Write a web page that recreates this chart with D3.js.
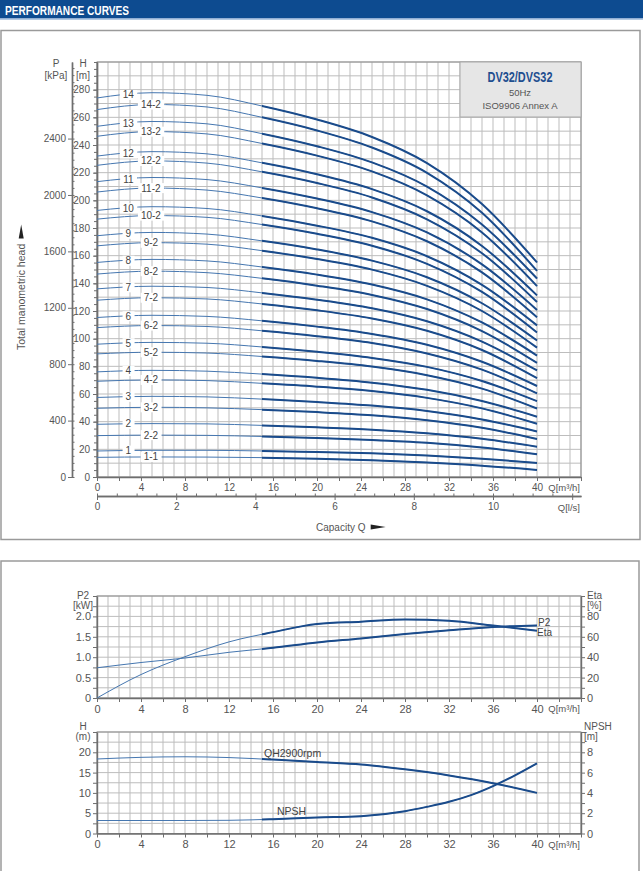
<!DOCTYPE html>
<html>
<head>
<meta charset="utf-8">
<script src="https://cdn.jsdelivr.net/npm/d3@7"></script>
<style>
body { margin: 0; background: #fff; }
svg text { font-family: "Liberation Sans", Arial, sans-serif; }
</style>
</head>
<body>
<div id="canvas"></div>
<script>
"use strict"

let svgWidth = 643
let svgHeight = 871

// ---- head curves (top chart), Q in m3/h, H in m
let qPoints = [0, 5, 10, 15, 20, 25, 30, 35, 40]
let stageLabels = ["14", "14-2", "13", "13-2", "12", "12-2", "11", "11-2", "10", "10-2",
    "9", "9-2", "8", "8-2", "7", "7-2", "6", "6-2", "5", "5-2", "4", "4-2",
    "3", "3-2", "2", "2-2", "1", "1-1"]
let headValues = [
    [274.0, 277.8, 275.9, 268.2, 258.4, 245.8, 226.9, 197.3, 155.1],
    [265.6, 269.3, 267.5, 260.0, 250.5, 238.2, 219.9, 191.0, 149.0],
    [253.5, 257.0, 255.3, 248.2, 239.1, 227.4, 209.9, 182.5, 143.5],
    [246.3, 249.7, 248.0, 241.1, 232.3, 220.9, 203.6, 176.8, 138.0],
    [232.0, 235.2, 233.6, 227.1, 218.8, 208.1, 192.1, 167.0, 131.3],
    [225.3, 228.5, 226.9, 220.6, 212.5, 202.1, 186.3, 161.8, 126.5],
    [213.5, 216.5, 215.0, 209.0, 201.3, 191.5, 176.8, 153.7, 120.8],
    [206.0, 208.9, 207.4, 201.7, 194.3, 184.8, 170.4, 147.9, 115.5],
    [192.7, 195.4, 194.1, 188.7, 181.7, 172.9, 159.6, 138.9, 109.6],
    [186.4, 189.0, 187.7, 182.5, 175.8, 167.2, 154.1, 133.8, 104.5],
    [174.4, 176.8, 175.6, 170.7, 164.5, 156.4, 144.4, 125.6, 98.7],
    [167.1, 169.4, 168.3, 163.6, 157.6, 149.9, 138.2, 120.0, 93.5],
    [155.1, 157.3, 156.2, 151.8, 146.3, 139.1, 128.4, 111.7, 87.8],
    [146.7, 148.8, 147.7, 143.6, 138.3, 131.6, 121.4, 105.5, 82.5],
    [136.0, 137.9, 137.0, 133.1, 128.2, 122.0, 112.6, 97.9, 77.0],
    [127.8, 129.6, 128.7, 125.1, 120.5, 114.6, 105.7, 91.8, 71.5],
    [115.3, 116.9, 116.1, 112.9, 108.7, 103.4, 95.6, 83.3, 65.8],
    [108.0, 109.5, 108.8, 105.7, 101.8, 96.9, 89.3, 77.6, 60.5],
    [96.0, 97.3, 96.7, 94.0, 90.5, 86.1, 79.6, 69.4, 54.8],
    [89.0, 90.2, 89.6, 87.1, 83.9, 79.8, 73.6, 63.9, 49.5],
    [76.0, 77.1, 76.5, 74.4, 71.7, 68.2, 63.0, 54.9, 43.6],
    [69.2, 70.2, 69.7, 67.7, 65.3, 62.1, 57.2, 49.6, 38.5],
    [57.5, 58.3, 57.9, 56.3, 54.2, 51.6, 47.7, 41.6, 32.9],
    [49.7, 50.4, 50.0, 48.7, 46.9, 44.6, 41.1, 35.6, 27.5],
    [38.1, 38.6, 38.4, 37.3, 35.9, 34.2, 31.6, 27.6, 21.9],
    [29.9, 30.3, 30.1, 29.3, 28.2, 26.8, 24.7, 21.3, 16.5],
    [18.8, 19.3, 19.3, 18.8, 18.0, 17.1, 15.5, 13.2, 10.2],
    [14.2, 14.5, 14.4, 14.0, 13.2, 12.1, 10.5, 8.2, 5.1]
]

// ---- power / efficiency (middle chart)
let qSmall = [0, 4, 8, 12, 16, 20, 24, 28, 32, 36, 40]
let p2Values = [0.74, 0.87, 0.98, 1.12, 1.23, 1.36, 1.46, 1.57, 1.66, 1.74, 1.78]
let etaValues = [0, 23, 40.5, 55, 64.6, 72.5, 74.8, 77, 75.7, 71, 66]

// ---- single stage head / NPSH (bottom chart)
let qhValues = [18.35, 18.76, 18.9, 18.7, 18.2, 17.6, 17.0, 15.8, 14.3, 12.4, 10.0]
let npshQ = [0, 4, 8, 12, 16, 20, 24, 28, 30, 32, 34, 36, 38, 40]
let npshValues = [1.28, 1.28, 1.28, 1.3, 1.41, 1.58, 1.71, 2.2, 2.63, 3.12, 3.78, 4.67, 5.73, 6.91]

// ---- tick labels
let qTicks = [0, 4, 8, 12, 16, 20, 24, 28, 32, 36, 40]
let lsTicks = [0, 2, 4, 6, 8, 10]
let hTicks = [0, 20, 40, 60, 80, 100, 120, 140, 160, 180, 200, 220, 240, 260, 280]
let pTicks = [0, 400, 800, 1200, 1600, 2000, 2400]
let p2Ticks = [0, 0.5, 1.0, 1.5, 2.0]
let etaTicks = [0, 20, 40, 60, 80]
let h2Ticks = [0, 5, 10, 15, 20]
let npshTicks = [0, 2, 4, 6, 8]

let thinBlue = "#4677b0"
let thickBlue = "#1a4b8b"
let gridColor = "#bdbdbd"
let axisColor = "#6e6e6e"
let labelColor = "#555"

let svg = d3.select("#canvas")
    .append("svg")
    .attr("width", svgWidth)
    .attr("height", svgHeight)

let defs = svg.append("defs")

// header bar
svg.append("rect")
    .attr("x", 0).attr("y", 0)
    .attr("width", svgWidth).attr("height", 18)
    .attr("fill", "#0d4b90")
svg.append("line")
    .attr("x1", 0).attr("x2", svgWidth)
    .attr("y1", 18.8).attr("y2", 18.8)
    .attr("stroke", "#6c95c6").attr("stroke-width", 1.2)
svg.append("text")
    .attr("x", 5).attr("y", 14.5)
    .attr("textLength", 124).attr("lengthAdjust", "spacingAndGlyphs")
    .style("font-family", "'Liberation Sans Narrow', 'Liberation Sans', sans-serif")
    .style("font-weight", "bold").style("font-size", "13.5px")
    .attr("fill", "#fff")
    .text("PERFORMANCE CURVES")

// panel frames
svg.append("rect")
    .attr("x", 1).attr("y", 30.5).attr("width", 639).attr("height", 509)
    .attr("fill", "none").attr("stroke", "#9a9a9a").attr("stroke-width", 1.5)
svg.append("rect")
    .attr("x", 1).attr("y", 561).attr("width", 638).attr("height", 330)
    .attr("fill", "none").attr("stroke", "#9a9a9a").attr("stroke-width", 1.5)

// shared x scale
let xScale = d3.scaleLinear().domain([0, 44]).range([97, 581])

function drawGrid(drawing, yScale, yMax, yStep) {
    let grid = drawing.append("g")
    grid.selectAll("line.gv")
        .data(d3.range(0, 44.01, 1))
        .join("line")
        .classed("gv", true)
        .attr("x1", d => xScale(d)).attr("x2", d => xScale(d))
        .attr("y1", yScale(0)).attr("y2", yScale(yMax))
        .attr("stroke", gridColor).attr("stroke-width", 1)
    grid.selectAll("line.gh")
        .data(d3.range(0, yMax + 0.001, yStep))
        .join("line")
        .classed("gh", true)
        .attr("x1", xScale(0)).attr("x2", xScale(44))
        .attr("y1", d => yScale(d)).attr("y2", d => yScale(d))
        .attr("stroke", gridColor).attr("stroke-width", 1)
    grid.append("rect")
        .attr("x", xScale(0)).attr("y", yScale(yMax))
        .attr("width", xScale(44) - xScale(0))
        .attr("height", yScale(0) - yScale(yMax))
        .attr("fill", "none").attr("stroke", "#8c8c8c").attr("stroke-width", 1)
}

function styleAxis(axisGroup, fontSize) {
    axisGroup.attr("font-family", "'Liberation Sans', Arial, sans-serif")
        .attr("font-size", fontSize)
    axisGroup.select(".domain").attr("stroke", axisColor).attr("stroke-width", 1.4)
    axisGroup.selectAll(".tick line").attr("stroke", axisColor)
    axisGroup.selectAll(".tick text").attr("fill", labelColor)
    return axisGroup
}

function addText(drawing, x, y, str, size, anchor) {
    return drawing.append("text")
        .attr("x", x).attr("y", y)
        .attr("text-anchor", anchor || "start")
        .style("font-size", size + "px")
        .attr("fill", labelColor)
        .text(str)
}

function drawQAxis(drawing, y, fontSize) {
    let ax = drawing.append("g").attr("transform", `translate(0,${y})`)
        .call(d3.axisBottom(xScale)
            .tickValues(d3.range(0, 44.01, 2))
            .tickFormat(d => qTicks.includes(d) ? d : "")
            .tickSize(4).tickPadding(3).tickSizeOuter(0))
    styleAxis(ax, fontSize)
    addText(drawing, 580, y + 14, "Q[m³/h]", 9.5, "end")
}

function drawCurve(drawing, points, yScale, clipId, thinW, thickW) {
    let line = d3.line()
        .x(d => xScale(d[0]))
        .y(d => yScale(d[1]))
        .curve(d3.curveMonotoneX)
    drawing.append("path")
        .attr("d", line(points))
        .attr("fill", "none").attr("stroke", thinBlue).attr("stroke-width", thinW)
    drawing.append("path")
        .attr("d", line(points))
        .attr("clip-path", `url(#${clipId})`)
        .attr("fill", "none").attr("stroke", thickBlue).attr("stroke-width", thickW)
}

function makeClip(id, yTop, yBottom) {
    defs.append("clipPath").attr("id", id)
        .append("rect")
        .attr("x", xScale(15)).attr("y", yTop - 5)
        .attr("width", xScale(41) - xScale(15))
        .attr("height", yBottom - yTop + 10)
}

// =================== TOP CHART ===================
let yH = d3.scaleLinear().domain([0, 300]).range([477, 62])
let yP = d3.scaleLinear().domain([0, 300 * 9.81]).range([477, 62])
let xLs = d3.scaleLinear().domain([0, 44 / 3.6]).range([97, 581])

let topPanel = svg.append("g")
drawGrid(topPanel, yH, 300, 10)

// H axis
styleAxis(topPanel.append("g").attr("transform", "translate(97,0)")
    .call(d3.axisLeft(yH).tickValues(d3.range(0, 301, 5)).tickFormat("").tickSize(3).tickSizeOuter(0)), 10)
styleAxis(topPanel.append("g").attr("transform", "translate(97,0)")
    .call(d3.axisLeft(yH).tickValues(hTicks).tickSize(4).tickPadding(3).tickSizeOuter(0)), 10)

// P axis
styleAxis(topPanel.append("g").attr("transform", "translate(72,0)")
    .call(d3.axisRight(yP).tickValues(d3.range(0, 2901, 50)).tickFormat("").tickSize(2.5).tickSizeOuter(0)), 10)
styleAxis(topPanel.append("g").attr("transform", "translate(72,0)")
    .call(d3.axisLeft(yP).tickValues(pTicks).tickFormat(d3.format("d")).tickSize(4).tickPadding(2).tickSizeOuter(0)), 10)

addText(topPanel, 56, 67, "P", 10, "middle")
addText(topPanel, 56, 79, "[kPa]", 10, "middle")
addText(topPanel, 83, 67, "H", 10, "middle")
addText(topPanel, 83, 79, "[m]", 10, "middle")

// Q axes
drawQAxis(topPanel, 477, 10)
let lsAxis = topPanel.append("g").attr("transform", "translate(0,496)")
styleAxis(lsAxis.append("g")
    .call(d3.axisTop(xLs).tickValues(d3.range(0, 12.01, 0.5)).tickFormat("").tickSize(2.5).tickSizeOuter(0)), 10)
styleAxis(lsAxis.append("g")
    .call(d3.axisBottom(xLs).tickValues(d3.range(0, 12.01, 2)).tickFormat(d => lsTicks.includes(d) ? d : "")
        .tickSize(4).tickPadding(3).tickSizeOuter(0)), 10)
addText(topPanel, 580, 511, "Q[l/s]", 9.5, "end")

// axis titles
let capText = addText(topPanel, 316, 530.5, "Capacity Q", 10, "start")
let capBox = capText.node().getBBox()
let ax0 = capBox.x + capBox.width + 5
topPanel.append("path")
    .attr("d", `M${ax0},524.5 L${ax0 + 15},527 L${ax0},529.5 Z`).attr("fill", "#222")
let yTitle = topPanel.append("g").attr("transform", "translate(25,350) rotate(-90)")
let yText = addText(yTitle, 0, 0, "Total manometric head", 10.5, "start")
let yEnd = yText.node().getBBox().width + 5
yTitle.append("path")
    .attr("d", `M${yEnd},-6.3 L${yEnd + 14},-3.8 L${yEnd},-1.3 Z`).attr("fill", "#222")

// legend box
topPanel.append("rect")
    .attr("x", 460).attr("y", 62).attr("width", 121).attr("height", 55)
    .attr("fill", "#e6e6e6").attr("stroke", "#a8a8a8").attr("stroke-width", 1)
topPanel.append("text")
    .attr("x", 520).attr("y", 82).attr("text-anchor", "middle")
    .attr("textLength", 65).attr("lengthAdjust", "spacingAndGlyphs")
    .style("font-family", "'Liberation Sans Narrow', 'Liberation Sans', sans-serif")
    .style("font-weight", "bold").style("font-size", "14px")
    .attr("fill", "#1f4f90")
    .text("DV32/DVS32")
addText(topPanel, 520, 96, "50Hz", 9.5, "middle")
addText(topPanel, 520, 108.5, "ISO9906 Annex A", 9.5, "middle")

// curves
makeClip("clipTop", 62, 477)
let curveLayer = topPanel.append("g")
headValues.forEach(function (values) {
    let pts = qPoints.map((q, i) => [q, values[i]])
    drawCurve(curveLayer, pts, yH, "clipTop", 1, 2)
})

// curve labels
let labelLayer = topPanel.append("g")
headValues.forEach(function (values, i) {
    let name = stageLabels[i]
    let lq = name.includes("-") ? 4.9 : 2.85
    let headAt = d3.scaleLinear().domain(qPoints).range(values)
    let g = labelLayer.append("g")
    let t = g.append("text")
        .attr("x", xScale(lq)).attr("y", yH(headAt(lq)))
        .attr("text-anchor", "middle").attr("dy", "0.35em")
        .style("font-size", "10px").attr("fill", "#444")
        .text(name)
    let bb = t.node().getBBox()
    g.insert("rect", "text")
        .attr("x", bb.x - 3).attr("y", bb.y + 0.5)
        .attr("width", bb.width + 6).attr("height", bb.height - 1)
        .attr("fill", "#fff")
})

// =================== MIDDLE CHART ===================
let yP2 = d3.scaleLinear().domain([0, 2.5]).range([698, 596])
let yEta = d3.scaleLinear().domain([0, 100]).range([698, 596])
let midPanel = svg.append("g")
drawGrid(midPanel, yP2, 2.5, 0.25)

styleAxis(midPanel.append("g").attr("transform", "translate(97,0)")
    .call(d3.axisLeft(yP2).tickValues(d3.range(0, 2.51, 0.25)).tickFormat(d => p2Ticks.includes(d) ? (d === 0 ? "0" : d.toFixed(1)) : "")
        .tickSize(4).tickPadding(2).tickSizeOuter(0)), 11)
styleAxis(midPanel.append("g").attr("transform", "translate(581,0)")
    .call(d3.axisRight(yEta).tickValues(d3.range(0, 100.1, 10)).tickFormat(d => etaTicks.includes(d) ? d : "")
        .tickSize(4).tickPadding(2).tickSizeOuter(0)), 11)
drawQAxis(midPanel, 698, 11)

addText(midPanel, 83, 598.5, "P2", 10, "middle")
addText(midPanel, 83, 609, "[kW]", 10, "middle")
addText(midPanel, 587, 598.5, "Eta", 10, "start")
addText(midPanel, 587, 609, "[%]", 10, "start")

makeClip("clipMid", 596, 698)
drawCurve(midPanel, qSmall.map((q, i) => [q, p2Values[i]]), yP2, "clipMid", 1, 2)
drawCurve(midPanel, qSmall.map((q, i) => [q, etaValues[i]]), yEta, "clipMid", 1, 2)
addText(midPanel, 538, 626, "P2", 10, "start").attr("fill", "#444")
addText(midPanel, 537, 636, "Eta", 10, "start").attr("fill", "#444")

// =================== BOTTOM CHART ===================
let yH2 = d3.scaleLinear().domain([0, 25]).range([833.5, 732])
let yN = d3.scaleLinear().domain([0, 10]).range([833.5, 732])
let botPanel = svg.append("g")
drawGrid(botPanel, yH2, 25, 2.5)

styleAxis(botPanel.append("g").attr("transform", "translate(97,0)")
    .call(d3.axisLeft(yH2).tickValues(d3.range(0, 25.1, 2.5)).tickFormat(d => h2Ticks.includes(d) ? d : "")
        .tickSize(4).tickPadding(2).tickSizeOuter(0)), 11)
styleAxis(botPanel.append("g").attr("transform", "translate(581,0)")
    .call(d3.axisRight(yN).tickValues(d3.range(0, 10.01, 1)).tickFormat(d => npshTicks.includes(d) ? d : "")
        .tickSize(4).tickPadding(2).tickSizeOuter(0)), 11)
drawQAxis(botPanel, 833.5, 11)

addText(botPanel, 83, 729.5, "H", 10, "middle")
addText(botPanel, 83, 740, "(m)", 10, "middle")
addText(botPanel, 584, 729.5, "NPSH", 10, "start")
addText(botPanel, 584, 740, "[m]", 10, "start")

makeClip("clipBot", 732, 833.5)
drawCurve(botPanel, qSmall.map((q, i) => [q, qhValues[i]]), yH2, "clipBot", 1, 2)
drawCurve(botPanel, npshQ.map((q, i) => [q, npshValues[i]]), yN, "clipBot", 1, 2)
addText(botPanel, 264, 756.5, "QH2900rpm", 10.5, "start").attr("fill", "#444")
addText(botPanel, 277, 815, "NPSH", 10.5, "start").attr("fill", "#444")
</script>
</body>
</html>
